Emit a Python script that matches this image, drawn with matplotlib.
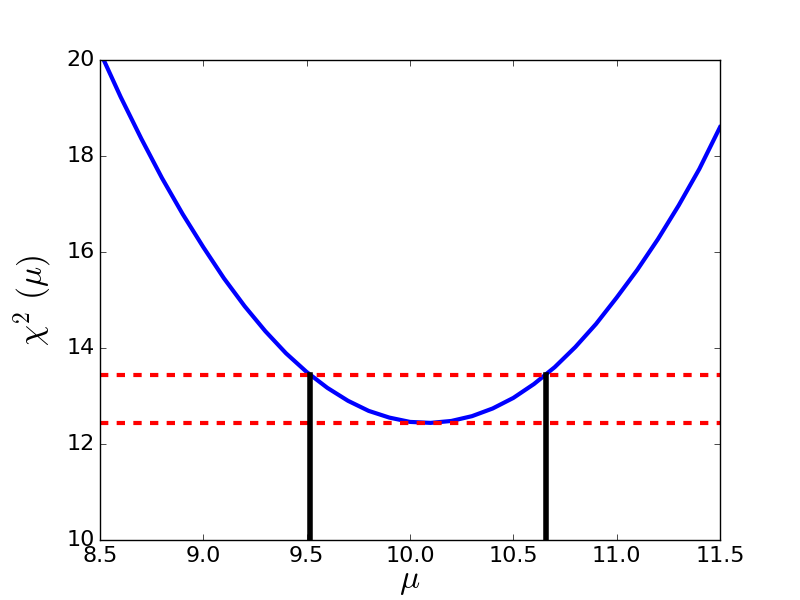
import matplotlib
matplotlib.use("Agg")
import matplotlib.pyplot as plt

mu = [8.5, 8.6, 8.7, 8.8, 8.9, 9.0, 9.1, 9.2, 9.3, 9.4, 9.5, 9.6, 9.7, 9.8, 9.9,
      10.0, 10.1, 10.2, 10.3, 10.4, 10.5, 10.6, 10.7, 10.8, 10.9, 11.0, 11.1,
      11.2, 11.3, 11.4, 11.5]
chi2 = [20.17, 19.23, 18.36, 17.54, 16.79, 16.10, 15.45, 14.87, 14.35, 13.89,
        13.50, 13.17, 12.90, 12.69, 12.55, 12.46, 12.44, 12.48, 12.58, 12.74,
        12.96, 13.25, 13.60, 14.02, 14.50, 15.05, 15.63, 16.27, 16.97, 17.73, 18.60]
chi2_min = 12.44
chi2_min_plus1 = 13.44
mu_lo = 9.516
mu_hi = 10.658

plt.style.use('classic')
fig = plt.figure(figsize=(8, 6), dpi=100)
ax = fig.add_axes([0.125, 0.1, 0.775, 0.8])
ax.plot(mu, chi2, color='blue', lw=3)
ax.axhline(chi2_min, color='red', ls='--', lw=3)
ax.axhline(chi2_min_plus1, color='red', ls='--', lw=3)
ax.plot([mu_lo, mu_lo], [10, chi2_min_plus1], color='black', lw=4)
ax.plot([mu_hi, mu_hi], [10, chi2_min_plus1], color='black', lw=4)
ax.set_xlim(8.5, 11.5)
ax.set_ylim(10, 20)
ax.set_xticks([8.5, 9.0, 9.5, 10.0, 10.5, 11.0, 11.5])
ax.set_yticks([10, 12, 14, 16, 18, 20])
ax.tick_params(labelsize=16)
ax.set_xlabel(r'$\mu$', fontsize=24, labelpad=-1)
ax.set_ylabel(r'$\chi^2\ (\mu)$', fontsize=24, labelpad=8)
fig.savefig('out.png', dpi=100)
